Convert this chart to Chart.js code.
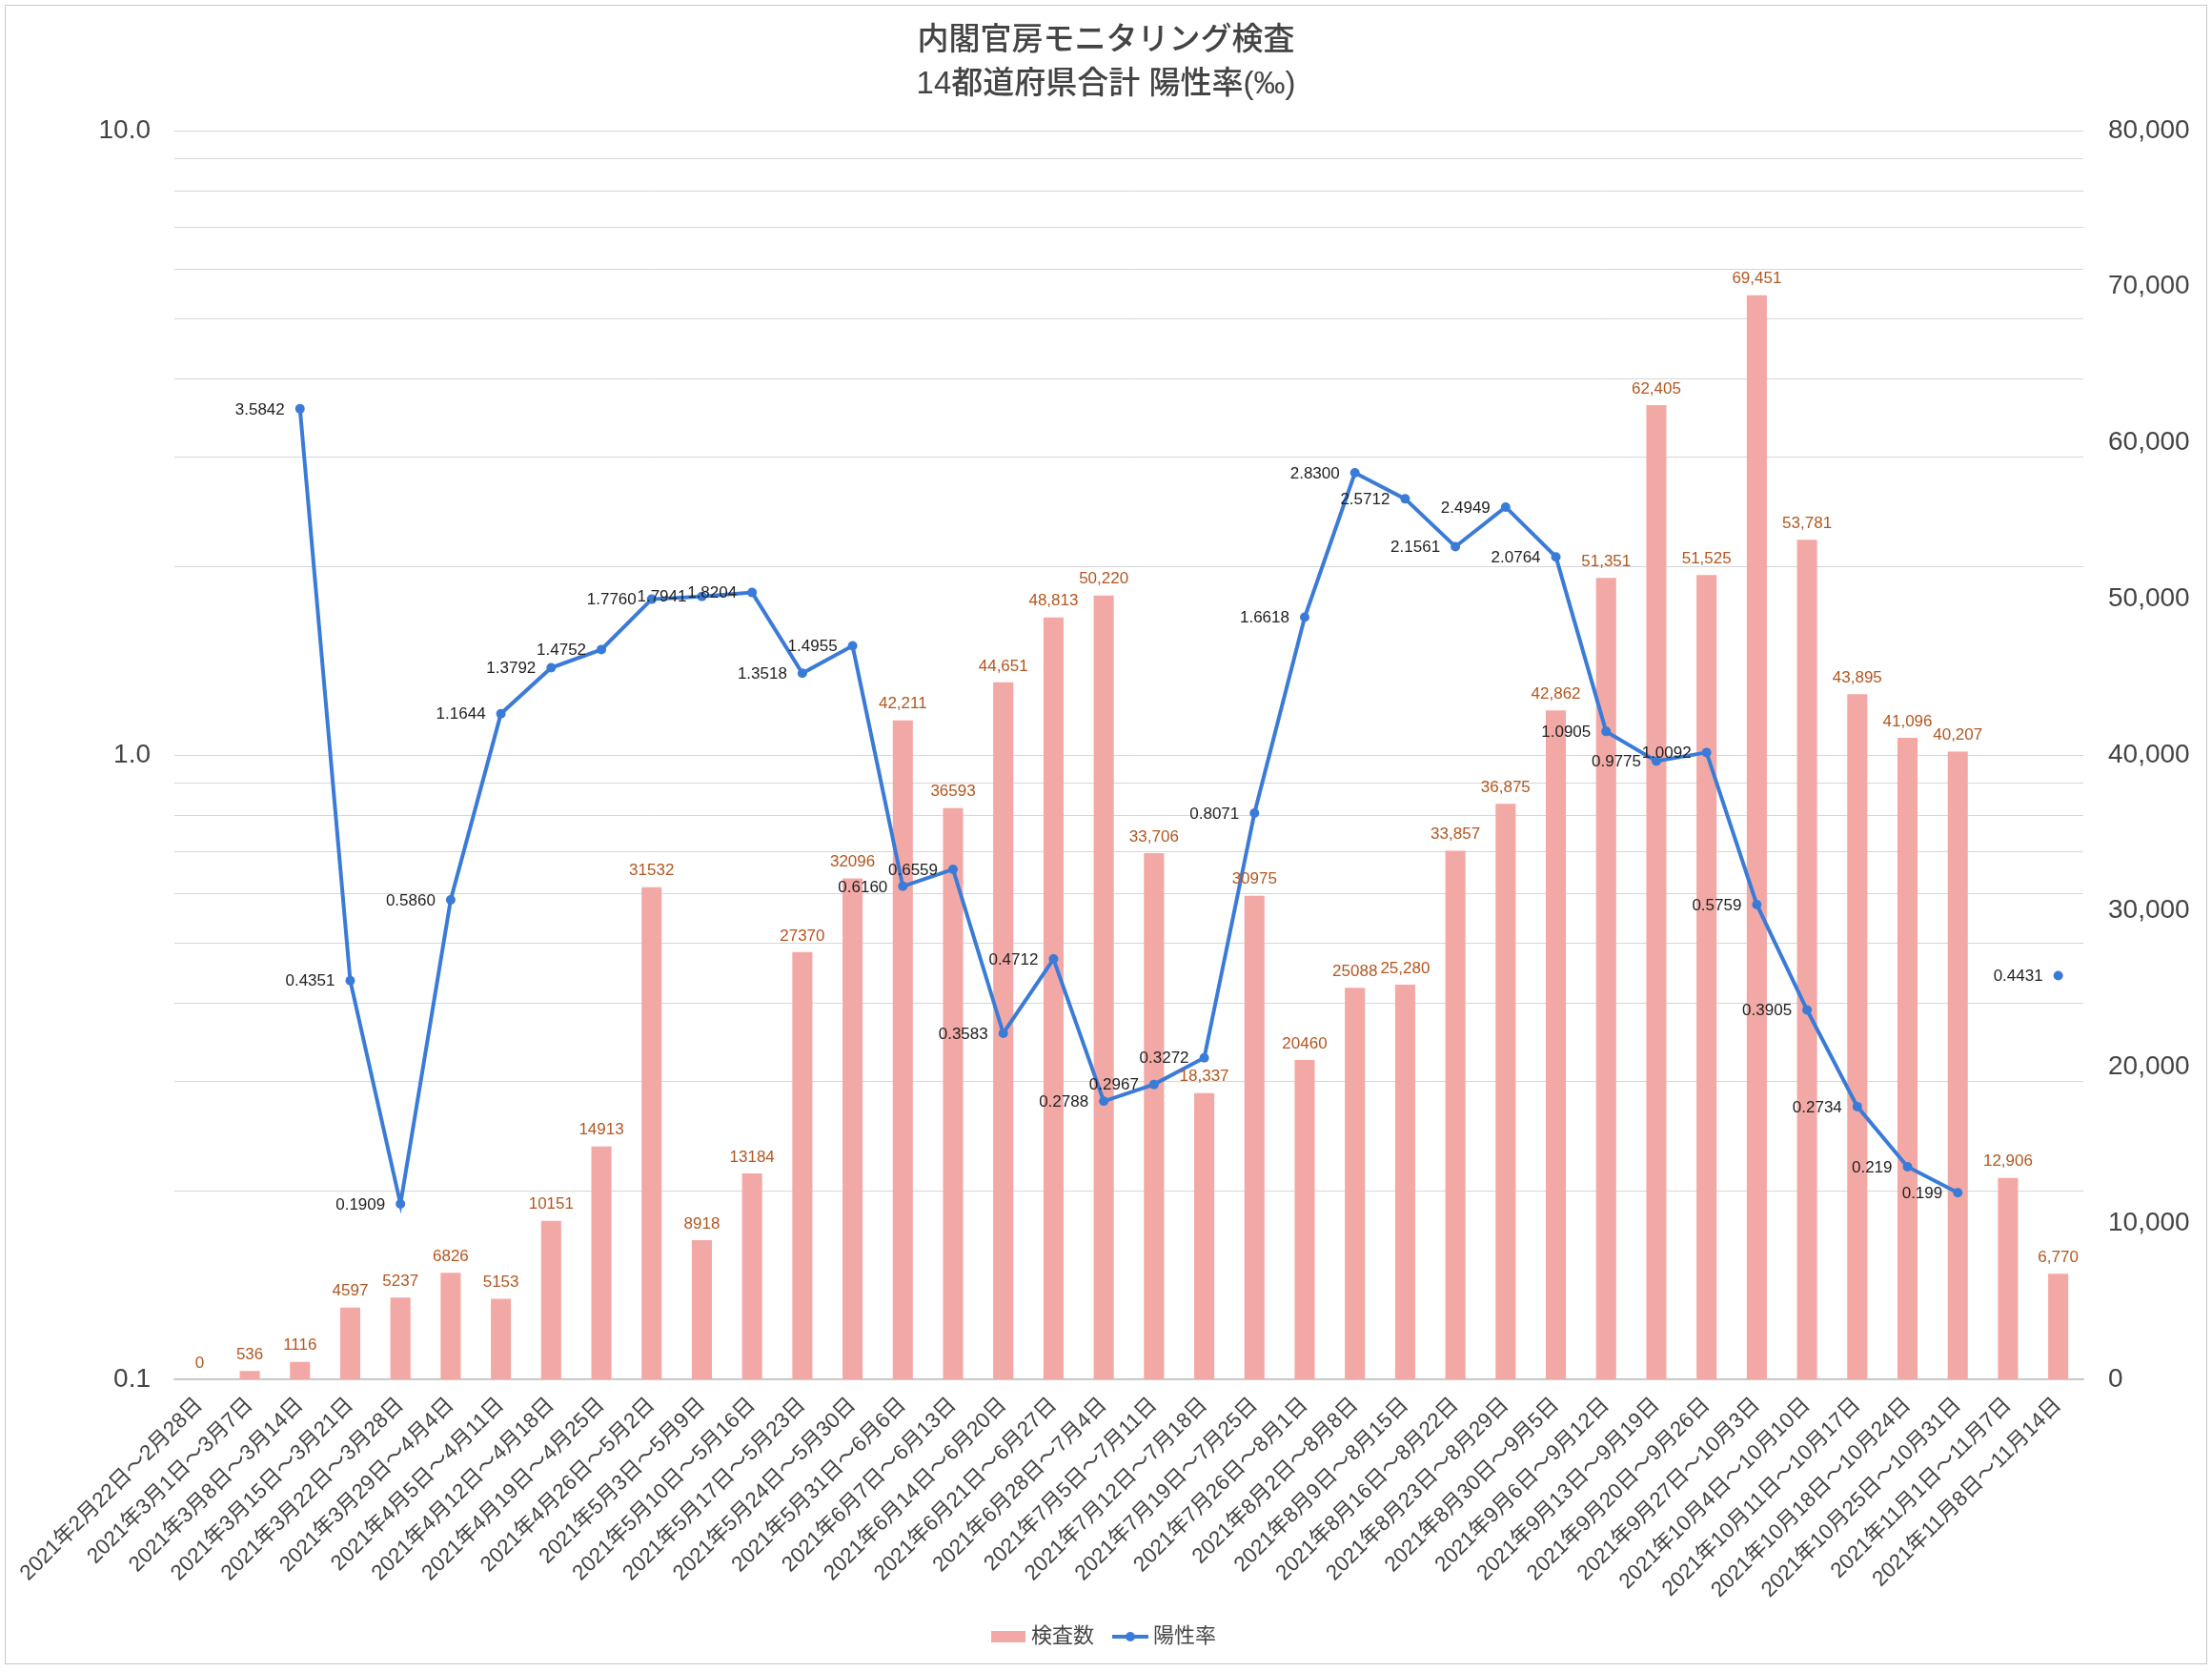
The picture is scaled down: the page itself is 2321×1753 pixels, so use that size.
<!DOCTYPE html>
<html lang="ja">
<head>
<meta charset="utf-8">
<title>内閣官房モニタリング検査</title>
<script src="https://cdn.jsdelivr.net/npm/chart.js@4.4.1/dist/chart.umd.min.js"></script>
<style>
  html, body { margin: 0; padding: 0; background: #fff; }
  #wrap { position: relative; width: 2321px; height: 1753px; }
  #frame {
    position: absolute; left: 5px; top: 5px; width: 2311px; height: 1741px;
    border: 1px solid #c8c8c8; box-sizing: border-box; pointer-events: none;
  }
</style>
</head>
<body>
<div id="wrap">
  <canvas id="monitoringChart" width="2321" height="1753"></canvas>
  <div id="frame"></div>
</div>
<script>
// Weekly periods
const weeks = [
    '2021年2月22日～2月28日', '2021年3月1日～3月7日', '2021年3月8日～3月14日',
    '2021年3月15日～3月21日', '2021年3月22日～3月28日', '2021年3月29日～4月4日',
    '2021年4月5日～4月11日', '2021年4月12日～4月18日', '2021年4月19日～4月25日',
    '2021年4月26日～5月2日', '2021年5月3日～5月9日', '2021年5月10日～5月16日',
    '2021年5月17日～5月23日', '2021年5月24日～5月30日', '2021年5月31日～6月6日',
    '2021年6月7日～6月13日', '2021年6月14日～6月20日', '2021年6月21日～6月27日',
    '2021年6月28日～7月4日', '2021年7月5日～7月11日', '2021年7月12日～7月18日',
    '2021年7月19日～7月25日', '2021年7月26日～8月1日', '2021年8月2日～8月8日',
    '2021年8月9日～8月15日', '2021年8月16日～8月22日', '2021年8月23日～8月29日',
    '2021年8月30日～9月5日', '2021年9月6日～9月12日', '2021年9月13日～9月19日',
    '2021年9月20日～9月26日', '2021年9月27日～10月3日', '2021年10月4日～10月10日',
    '2021年10月11日～10月17日', '2021年10月18日～10月24日', '2021年10月25日～10月31日',
    '2021年11月1日～11月7日', '2021年11月8日～11月14日'
];

// 検査数 (right axis)
const tests = [
    0, 536, 1116, 4597, 5237, 6826, 5153, 10151, 14913, 31532,
    8918, 13184, 27370, 32096, 42211, 36593, 44651, 48813, 50220, 33706,
    18337, 30975, 20460, 25088, 25280, 33857, 36875, 42862, 51351, 62405,
    51525, 69451, 53781, 43895, 41096, 40207, 12906, 6770
];
const testLabels = [
    '0', '536', '1116', '4597', '5237', '6826', '5153', '10151', '14913', '31532',
    '8918', '13184', '27370', '32096', '42,211', '36593', '44,651', '48,813', '50,220', '33,706',
    '18,337', '30975', '20460', '25088', '25,280', '33,857', '36,875', '42,862', '51,351', '62,405',
    '51,525', '69,451', '53,781', '43,895', '41,096', '40,207', '12,906', '6,770'
];

// 陽性率 ‰ (left log axis)
const rates = [
    null, null, 3.5842, 0.4351, 0.1909, 0.5860, 1.1644, 1.3792, 1.4752, 1.7760,
    1.7941, 1.8204, 1.3518, 1.4955, 0.6160, 0.6559, 0.3583, 0.4712, 0.2788, 0.2967,
    0.3272, 0.8071, 1.6618, 2.8300, 2.5712, 2.1561, 2.4949, 2.0764, 1.0905, 0.9775,
    1.0092, 0.5759, 0.3905, 0.2734, 0.219, 0.199, null, 0.4431
];
const rateLabels = [
    '', '', '3.5842', '0.4351', '0.1909', '0.5860', '1.1644', '1.3792', '1.4752', '1.7760',
    '1.7941', '1.8204', '1.3518', '1.4955', '0.6160', '0.6559', '0.3583', '0.4712', '0.2788', '0.2967',
    '0.3272', '0.8071', '1.6618', '2.8300', '2.5712', '2.1561', '2.4949', '2.0764', '1.0905', '0.9775',
    '1.0092', '0.5759', '0.3905', '0.2734', '0.219', '0.199', '', '0.4431'
];

// Log axis grid lines
const rateTicks = [0.1, 0.2, 0.3, 0.4, 0.5, 0.6, 0.7, 0.8, 0.9, 1, 2, 3, 4, 5, 6, 7, 8, 9, 10];

const FONT = '"Liberation Sans", "Noto Sans CJK JP", sans-serif';
const BAR_COLOR = '#f2a9a6';
const LINE_COLOR = '#3b7bd8';

// Legend icons
function makeIcon(kind) {
    const c = document.createElement('canvas');
    c.width = 38;
    c.height = 14;
    const g = c.getContext('2d');
    if (kind === 'bar') {
        g.fillStyle = BAR_COLOR;
        g.fillRect(1, 1, 36, 12);
    } else {
        g.strokeStyle = LINE_COLOR;
        g.lineWidth = 4;
        g.beginPath();
        g.moveTo(0, 7);
        g.lineTo(38, 7);
        g.stroke();
        g.fillStyle = LINE_COLOR;
        g.beginPath();
        g.arc(19, 7, 5, 0, Math.PI * 2);
        g.fill();
    }
    return c;
}

// Value labels on bars and points
const valueLabels = {
    id: 'valueLabels',
    afterDatasetsDraw(chart) {
        const ctx = chart.ctx;
        ctx.save();
        ctx.font = '17px ' + FONT;
        ctx.textBaseline = 'middle';

        ctx.fillStyle = '#b4561f';
        ctx.textAlign = 'center';
        chart.getDatasetMeta(0).data.forEach((bar, i) => {
            ctx.fillText(testLabels[i], bar.x, bar.y - 17);
        });

        ctx.fillStyle = '#222';
        ctx.textAlign = 'right';
        chart.getDatasetMeta(1).data.forEach((pt, i) => {
            if (rates[i] === null) return;
            ctx.fillText(rateLabels[i], pt.x - 16, pt.y + 1);
        });
        ctx.restore();
    }
};

const ctx = document.getElementById('monitoringChart').getContext('2d');

new Chart(ctx, {
    type: 'bar',
    data: {
        labels: weeks,
        datasets: [
            {
                type: 'bar',
                label: '検査数',
                data: tests,
                yAxisID: 'yCount',
                backgroundColor: BAR_COLOR,
                categoryPercentage: 0.8,
                barPercentage: 0.5,
                order: 2
            },
            {
                type: 'line',
                label: '陽性率',
                data: rates,
                yAxisID: 'yRate',
                borderColor: LINE_COLOR,
                backgroundColor: LINE_COLOR,
                borderWidth: 4,
                pointRadius: 5,
                pointBackgroundColor: LINE_COLOR,
                pointBorderWidth: 0,
                spanGaps: false,
                tension: 0,
                order: 1
            }
        ]
    },
    options: {
        responsive: false,
        animation: false,
        devicePixelRatio: 1,
        layout: { padding: { left: 0, right: 0, top: 0, bottom: 15 } },
        plugins: {
            title: {
                display: true,
                text: ['内閣官房モニタリング検査', '14都道府県合計 陽性率(‰)'],
                color: '#444',
                font: { family: FONT, size: 33, weight: '500', lineHeight: '46px' },
                padding: { top: 20, bottom: 25 }
            },
            legend: {
                position: 'bottom',
                labels: {
                    color: '#444',
                    font: { family: FONT, size: 22 },
                    usePointStyle: true,
                    pointStyleWidth: 26,
                    padding: 25,
                    generateLabels: (chart) => chart.data.datasets.map((ds, i) => ({
                        text: ds.label,
                        datasetIndex: i,
                        pointStyle: makeIcon(ds.type),
                        fillStyle: 'transparent',
                        strokeStyle: 'transparent',
                        lineWidth: 0,
                        fontColor: '#444'
                    }))
                }
            },
            tooltip: { enabled: false }
        },
        scales: {
            x: {
                grid: { display: false },
                border: { display: true, color: '#c4c4c4', width: 1.5 },
                ticks: {
                    autoSkip: false,
                    maxRotation: 45,
                    minRotation: 45,
                    padding: 6,
                    color: '#444',
                    font: { family: FONT, size: 22.5 }
                },
                afterFit: (scale) => { scale.height = 234; }
            },
            yRate: {
                type: 'logarithmic',
                position: 'left',
                min: 0.1,
                max: 10,
                afterBuildTicks: (scale) => {
                    scale.ticks = rateTicks.map(v => ({ value: v }));
                },
                grid: { color: '#d6d6d6', lineWidth: 1, drawTicks: false },
                border: { display: false },
                ticks: {
                    autoSkip: false,
                    padding: 25,
                    color: '#444',
                    font: { family: FONT, size: 28 },
                    callback: (value) => {
                        const e = Math.log10(value);
                        if (Math.abs(e - Math.round(e)) > 1e-9) return '';
                        return value < 1 ? String(value) : value.toFixed(1);
                    }
                },
                afterFit: (scale) => { scale.width = 183; }
            },
            yCount: {
                type: 'linear',
                position: 'right',
                min: 0,
                max: 80000,
                grid: { display: false, drawTicks: false },
                border: { display: false },
                ticks: {
                    stepSize: 10000,
                    padding: 26,
                    color: '#444',
                    font: { family: FONT, size: 28 },
                    callback: (value) => value.toLocaleString('en-US')
                },
                afterFit: (scale) => { scale.width = 135; }
            }
        }
    },
    plugins: [valueLabels]
});
</script>
</body>
</html>
